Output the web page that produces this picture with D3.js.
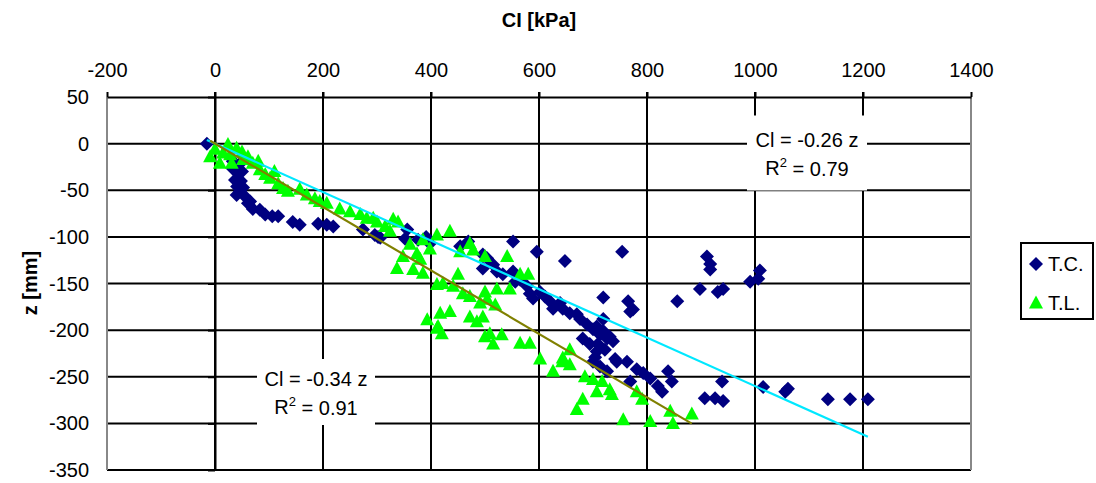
<!DOCTYPE html>
<html>
<head>
<meta charset="utf-8">
<script src="https://cdn.jsdelivr.net/npm/d3@7"></script>
<style>
  body { margin: 0; background: #fff; }
  svg { font-family: Arial, "Liberation Sans", sans-serif; }
</style>
</head>
<body>
<svg id="chart" width="1096" height="483"></svg>
<script>
// CI [kPa] vs z [mm]
const tcPoints = [
  [-15, 0], [33, -19], [39, -25], [33, -27], [43, -32], [37, -39], [41, -46], [46, -51],
  [45, -22], [50, -30], [48, -40], [52, -47], [40, -55], [65, -62],
  [56, -57], [61, -64], [70, -70], [83, -71], [93, -76], [106, -78], [117, -78], [144, -84],
  [157, -87], [191, -86], [207, -87], [219, -89], [274, -92], [296, -98], [302, -100], [306, -101],
  [356, -92], [352, -102], [376, -103], [391, -100], [398, -107], [454, -110], [469, -105], [552, -105],
  [596, -116], [648, -126], [754, -116], [496, -119], [504, -123], [496, -134], [515, -130], [522, -137],
  [533, -140], [552, -137], [556, -148], [565, -146], [578, -153], [583, -161], [589, -166], [602, -159],
  [611, -164], [639, -171], [620, -169], [626, -177], [644, -177], [657, -182], [670, -183], [676, -188],
  [689, -194], [700, -199], [713, -205], [731, -207], [737, -212], [681, -209], [694, -215], [707, -223],
  [700, -234], [713, -239], [726, -244], [719, -188], [719, -165], [707, -196], [719, -201], [709, -215],
  [722, -221], [704, -229], [744, -234], [763, -234], [769, -255], [781, -242], [793, -246], [806, -252],
  [820, -260], [828, -266], [839, -244], [846, -255], [726, -209], [741, -231], [774, -178], [765, -169],
  [769, -180], [856, -169], [898, -156], [911, -121], [917, -129], [917, -135], [931, -159], [941, -156],
  [991, -148], [1006, -145], [1009, -136], [939, -255], [907, -273], [926, -273], [941, -276], [1015, -261],
  [1056, -266], [1061, -263], [1135, -274], [1176, -274], [1209, -274]
];

const tlPoints = [
  [-9, -14], [0, -6], [9, -21], [24, -1], [28, -12], [31, -21], [50, -9], [52, -17],
  [15, -10], [40, -5], [110, -30],
  [61, -14], [70, -21], [80, -19], [83, -28], [93, -33], [102, -37], [117, -43], [126, -48],
  [135, -51], [157, -49], [170, -55], [185, -59], [194, -62], [207, -64], [231, -70], [250, -73],
  [269, -76], [281, -80], [293, -80], [300, -84], [315, -89], [330, -81], [339, -84], [324, -94],
  [361, -108], [348, -121], [374, -118], [380, -124], [337, -134], [367, -135], [385, -139], [411, -98],
  [435, -94], [398, -113], [385, -103], [454, -116], [472, -107], [478, -114], [500, -121], [541, -121],
  [565, -140], [580, -140], [450, -140], [441, -153], [422, -150], [411, -151], [459, -161], [472, -164],
  [500, -159], [522, -156], [546, -156], [491, -171], [504, -167], [519, -173], [393, -189], [417, -182],
  [435, -180], [411, -198], [420, -204], [413, -196], [472, -186], [485, -191], [496, -186], [500, -207],
  [509, -204], [531, -205], [515, -215], [565, -214], [583, -214], [602, -231], [626, -244], [643, -234],
  [644, -230], [657, -221], [657, -237], [685, -250], [700, -253], [717, -255], [670, -285], [681, -274],
  [707, -266], [731, -264], [735, -269], [756, -296], [781, -266], [791, -274], [806, -298], [843, -287],
  [848, -300], [883, -290]
];

// linear fits through the origin (z = -k * CI)
const fits = [
  { name: "T.C.", k: 0.26, r2: "0.79", color: "#00e8ff", points: tcPoints },
  { name: "T.L.", k: 0.34, r2: "0.91", color: "#808000", points: tlPoints }
];

const xTicks = [-200, 0, 200, 400, 600, 800, 1000, 1200, 1400];
const yTicks = [50, 0, -50, -100, -150, -200, -250, -300, -350];

const svg = d3.select("#chart");
const x = d3.scaleLinear().domain([-200, 1400]).range([107, 971]);
const y = d3.scaleLinear().domain([50, -350]).range([97, 470]);

const diamond = "M0,-7L7,0L0,7L-7,0Z";
const triangle = "M0,-7.5L7,5.5L-7,5.5Z";

// gridlines
const grid = svg.append("g");
grid.selectAll(".gx").data(xTicks.slice(1, -1)).join("line")
  .attr("x1", d => x(d)).attr("x2", d => x(d))
  .attr("y1", y(50) - 5).attr("y2", y(-350))
  .attr("stroke", "#000").attr("stroke-width", 2);
grid.selectAll(".gy").data(yTicks.slice(1)).join("line")
  .attr("x1", x(-200)).attr("x2", x(1400))
  .attr("y1", d => y(d)).attr("y2", d => y(d))
  .attr("stroke", "#000").attr("stroke-width", 2);
// plot area sides
grid.append("line").attr("x1", x(-200)).attr("x2", x(-200)).attr("y1", y(50)).attr("y2", y(-350))
  .attr("stroke", "#888").attr("stroke-width", 2);
grid.append("line").attr("x1", x(1400)).attr("x2", x(1400)).attr("y1", y(50)).attr("y2", y(-350))
  .attr("stroke", "#888").attr("stroke-width", 2);

// top x axis
const xAxis = svg.append("g").attr("transform", `translate(0,${y(50)})`)
  .call(d3.axisTop(x).tickValues(xTicks).tickFormat(d => d).tickSize(5).tickPadding(15).tickSizeOuter(0));
xAxis.select(".domain").attr("stroke", "#000").attr("stroke-width", 2);
xAxis.selectAll(".tick line").attr("stroke", "#000").attr("stroke-width", 2);
xAxis.selectAll("text").attr("font-size", 20).attr("fill", "#000")
  .attr("font-family", "Arial, 'Liberation Sans', sans-serif");

// y axis crossing at CI = 0, labels kept at the left
const yAxis = svg.append("g").attr("transform", `translate(${x(0)},0)`)
  .call(d3.axisLeft(y).tickValues(yTicks).tickSize(7).tickFormat("").tickSizeOuter(0));
yAxis.select(".domain").attr("stroke", "#000").attr("stroke-width", 2);
yAxis.selectAll(".tick line").attr("stroke", "#000").attr("stroke-width", 2);
svg.append("g").selectAll("text").data(yTicks).join("text")
  .attr("x", 89).attr("y", d => y(d)).attr("dy", "0.35em")
  .attr("text-anchor", "end").attr("font-size", 20).text(d => d);

// points
svg.append("g").selectAll("path").data(tcPoints).join("path")
  .attr("d", diamond).attr("fill", "#000080")
  .attr("transform", d => `translate(${x(d[0])},${y(d[1])})`);
svg.append("g").selectAll("path").data(tlPoints).join("path")
  .attr("d", triangle).attr("fill", "#00ff00")
  .attr("transform", d => `translate(${x(d[0])},${y(d[1])})`);

// trend lines over the data range
fits.forEach(f => {
  const ext = d3.extent(f.points, d => d[0]);
  svg.append("line")
    .attr("x1", x(ext[0])).attr("y1", y(-f.k * ext[0]))
    .attr("x2", x(ext[1])).attr("y2", y(-f.k * ext[1]))
    .attr("stroke", f.color).attr("stroke-width", 2.2);
});

// fit labels
function fitLabel(f, cx, cy, w, h) {
  const g = svg.append("g");
  g.append("rect").attr("x", cx - w / 2).attr("y", cy - h / 2).attr("width", w).attr("height", h).attr("fill", "#fff");
  g.append("text").attr("x", cx).attr("y", cy - 13).attr("dy", "0.35em").attr("text-anchor", "middle")
    .attr("font-size", 20).text(`Cl = -${f.k.toFixed(2)} z`);
  const t = g.append("text").attr("x", cx).attr("y", cy + 15).attr("dy", "0.35em").attr("text-anchor", "middle")
    .attr("font-size", 20);
  t.append("tspan").text("R");
  t.append("tspan").attr("font-size", 13).attr("dy", "-0.6em").text("2");
  t.append("tspan").attr("dy", "0.45em").text(` = ${f.r2}`);
}
fitLabel(fits[0], 807, 153, 120, 75);
fitLabel(fits[1], 316, 392, 118, 66);

// axis titles
svg.append("text").attr("x", 539).attr("y", 20).attr("dy", "0.35em").attr("text-anchor", "middle")
  .attr("font-size", 20).attr("font-weight", "bold").text("CI [kPa]");
svg.append("text").attr("transform", "translate(30,283) rotate(-90)").attr("dy", "0.35em")
  .attr("text-anchor", "middle").attr("font-size", 20).attr("font-weight", "bold").text("z [mm]");

// legend
const legend = svg.append("g").attr("transform", "translate(1021,243)");
legend.append("rect").attr("width", 72).attr("height", 76).attr("fill", "#fff")
  .attr("stroke", "#000").attr("stroke-width", 2);
[{ name: "T.C.", shape: diamond, color: "#000080" }, { name: "T.L.", shape: triangle, color: "#00ff00" }]
  .forEach((s, i) => {
    const row = legend.append("g").attr("transform", `translate(0,${21 + i * 39})`);
    row.append("path").attr("d", s.shape).attr("fill", s.color).attr("transform", "translate(15,0)");
    row.append("text").attr("x", 27).attr("dy", "0.35em").attr("font-size", 20).text(s.name);
  });
</script>
</body>
</html>
